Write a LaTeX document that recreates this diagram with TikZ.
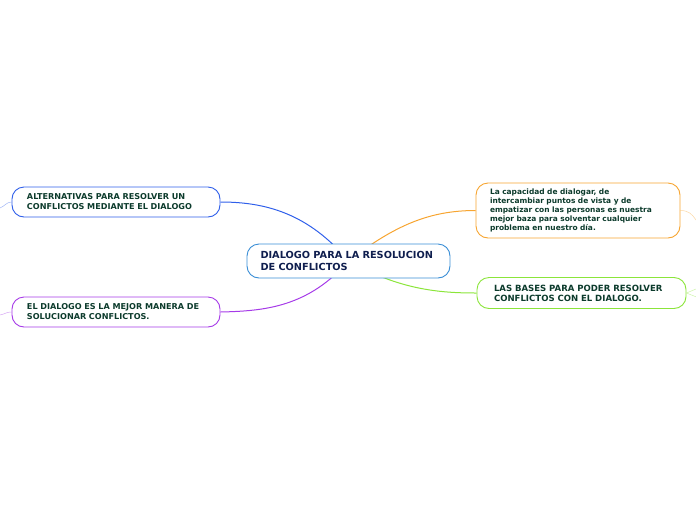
\documentclass[tikz,border=0pt]{standalone}
\usepackage{fontspec}
\setmainfont{DejaVu Sans}
\usetikzlibrary{backgrounds}
\definecolor{topicblue}{HTML}{3A8ED6}
\definecolor{linkblue}{HTML}{2F5FEA}
\definecolor{linkviolet}{HTML}{A63BE8}
\definecolor{linkorange}{HTML}{F7A531}
\definecolor{linkgreen}{HTML}{8BE53A}
\definecolor{textgreen}{HTML}{0C3B2C}
\definecolor{textnavy}{HTML}{0F1E4E}

\begin{document}
\begin{tikzpicture}[x=1pt, y=-1pt,
	idea/.style={draw, fill=white, rounded corners=12pt, line width=0.9pt, align=left, text=textgreen},
	link/.style={line width=1pt},
	stub/.style={line width=0.5pt, opacity=0.45}]
	\useasboundingbox (0,0) rectangle (696,520);
	\node[idea, draw=topicblue, text=textnavy, text width=176pt, inner xsep=13.5pt, minimum height=34pt, font=\fontsize{9.75}{12.5}\selectfont\bfseries] (main) at (348.5,261) {DIALOGO PARA LA RESOLUCION\\DE CONFLICTOS};
	\node[idea, draw=linkblue, text width=178pt, inner xsep=15pt, minimum height=30pt, font=\fontsize{8.1}{10}\selectfont\bfseries] (alt) at (116,202) {ALTERNATIVAS PARA RESOLVER UN\\CONFLICTOS MEDIANTE EL DIALOGO};
	\node[idea, draw=linkviolet, text width=178pt, inner xsep=15pt, minimum height=30pt, font=\fontsize{8.1}{10}\selectfont\bfseries] (best) at (116,312) {EL DIALOGO ES LA MEJOR MANERA DE\\SOLUCIONAR CONFLICTOS.};
	\node[idea, draw=linkorange, text width=176pt, inner xsep=14pt, minimum height=55pt, font=\fontsize{7.45}{9}\selectfont\bfseries] (skill) at (578,210.5) {La capacidad de dialogar, de\\intercambiar puntos de vista y de\\empatizar con las personas es nuestra\\mejor baza para solventar cualquier\\problema en nuestro día.};
	\node[idea, draw=linkgreen, text width=175pt, inner xsep=17pt, minimum height=31pt, font=\fontsize{8.55}{10}\selectfont\bfseries] (bases) at (581.5,293) {LAS BASES PARA PODER RESOLVER\\CONFLICTOS CON EL DIALOGO.};
	\coordinate (altend) at (0,208);
	\coordinate (bestend) at (0,315);
	\coordinate (skillend) at (696,220);
	\coordinate (basesend) at (696,289);
	\begin{pgfonlayer}{background}
		\draw[link, linkblue] (main.center) .. controls (308,213) and (265,202) .. (alt.east);
		\draw[link, linkviolet] (main.center) .. controls (308,307) and (265,311) .. (best.east);
		\draw[link, linkorange] (main.center) .. controls (395,225) and (430,210.5) .. (skill.west);
		\draw[link, linkgreen] (main.center) .. controls (400,290) and (440,293) .. (bases.west);
		\draw[stub, linkblue] (alt.west) .. controls +(-5,0) and +(5,-2) .. (altend);
		\draw[stub, linkviolet] (best.west) .. controls +(-5,0) and +(5,-1) .. (bestend);
		\draw[stub, linkorange] (skill.east) .. controls +(8,0) and +(-4,-6) .. (skillend);
		\draw[stub, linkgreen] (bases.east) -- (basesend);
		\draw[stub, linkgreen] (bases.east) -- ++(10,4);
	\end{pgfonlayer}
\end{tikzpicture}
\end{document}
